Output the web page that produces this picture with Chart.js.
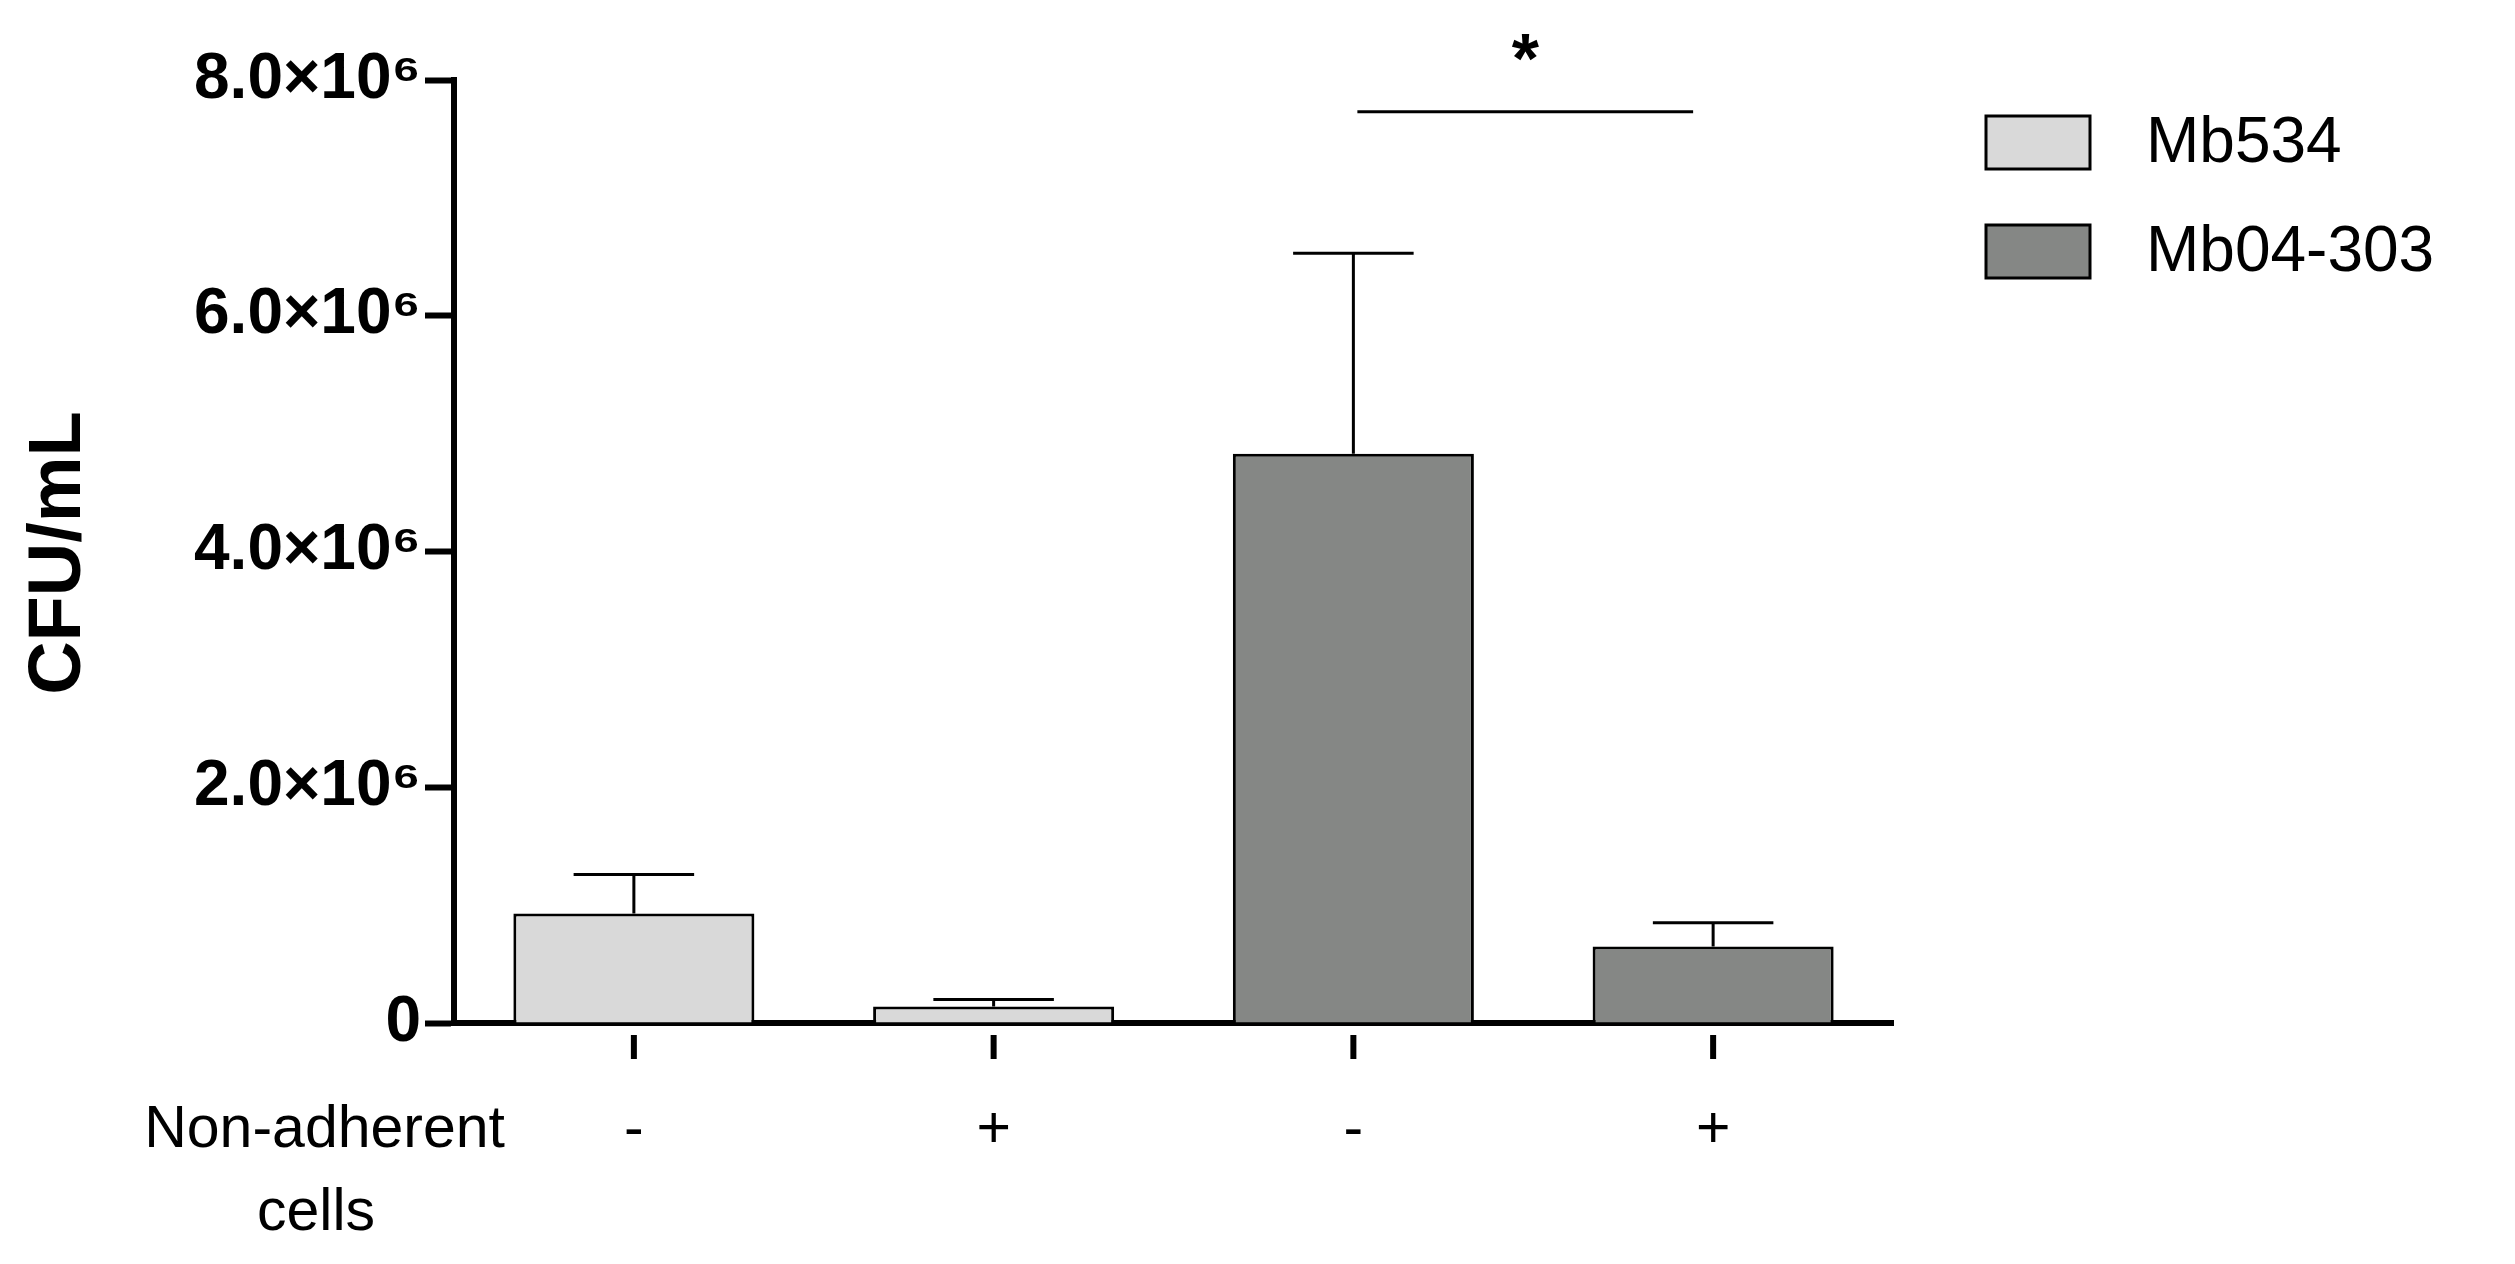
<!DOCTYPE html>
<html>
<head>
<meta charset="utf-8">
<script src="https://cdn.jsdelivr.net/npm/chart.js@4"></script>
<style>
  html, body { margin: 0; padding: 0; background: #fff; }
  #wrap { width: 2515px; height: 1264px; }
</style>
</head>
<body>
<div id="wrap"><canvas id="chart" width="2515" height="1264"></canvas></div>
<script>
// data
const categories = ["-", "+", "-", "+"]
const strains = ["Mb534", "Mb534", "Mb04-303", "Mb04-303"]
const means = [0.93e6, 0.14e6, 4.83e6, 0.65e6]
const errors = [0.33e6, 0.06e6, 1.70e6, 0.20e6]
const yTicks = [0, 2e6, 4e6, 6e6, 8e6]
const legendNames = ["Mb534", "Mb04-303"]
const colors = { "Mb534": "#d9d9d9", "Mb04-303": "#858785" }

const FONT = "'Liberation Sans', Arial, sans-serif"

const extras = {
  id: "extras",
  afterDatasetsDraw(chart) {
    const { ctx, scales: { x, y } } = chart
    const meta = chart.getDatasetMeta(0)
    ctx.save()
    ctx.strokeStyle = "#000"
    ctx.lineWidth = 3
    // error bars (upper only)
    meta.data.forEach((bar, i) => {
      const top = y.getPixelForValue(means[i] + errors[i])
      const half = bar.width / 4
      ctx.beginPath()
      ctx.moveTo(bar.x, bar.y)
      ctx.lineTo(bar.x, top)
      ctx.moveTo(bar.x - half, top)
      ctx.lineTo(bar.x + half, top)
      ctx.stroke()
    })
    // x tick marks
    ctx.lineWidth = 6
    categories.forEach((c, i) => {
      const px = x.getPixelForValue(i)
      ctx.beginPath()
      ctx.moveTo(px, y.bottom + 12)
      ctx.lineTo(px, y.bottom + 36)
      ctx.stroke()
    })
    // category labels
    ctx.fillStyle = "#000"
    ctx.font = "59px " + FONT
    ctx.textAlign = "center"
    ctx.textBaseline = "middle"
    categories.forEach((c, i) => ctx.fillText(c, x.getPixelForValue(i), 1131))
    ctx.textAlign = "right"
    ctx.fillText("Non-adherent", 505, 1131)
    ctx.textAlign = "center"
    ctx.fillText("cells", 316, 1214)
    // significance bar
    ctx.lineWidth = 3
    const sy = y.getPixelForValue(7.73e6)
    const x1 = meta.data[2].x + 4, x2 = meta.data[3].x - 20
    ctx.beginPath()
    ctx.moveTo(x1, sy)
    ctx.lineTo(x2, sy)
    ctx.stroke()
    ctx.font = "bold 70px " + FONT
    ctx.fillText("*", (x1 + x2) / 2, sy - 48)
    // legend
    ctx.font = "64px " + FONT
    ctx.textAlign = "left"
    legendNames.forEach((n, i) => {
      const ty = 116 + i * 109
      ctx.fillStyle = colors[n]
      ctx.fillRect(1986, ty, 104, 53)
      ctx.strokeRect(1986, ty, 104, 53)
      ctx.fillStyle = "#000"
      ctx.fillText(n, 2146, ty + 28)
    })
    // y title
    ctx.font = "bold 74px " + FONT
    ctx.translate(60, 553)
    ctx.rotate(-Math.PI / 2)
    ctx.textAlign = "center"
    ctx.fillText("CFU/mL", 0, 0)
    ctx.restore()
  }
}

new Chart(document.getElementById("chart"), {
  type: "bar",
  data: {
    labels: categories,
    datasets: [{
      data: means,
      backgroundColor: strains.map(s => colors[s]),
      borderColor: "#000",
      borderWidth: 3,
      borderSkipped: "bottom",
      barPercentage: 0.67,
      categoryPercentage: 1
    }]
  },
  options: {
    responsive: false,
    animation: false,
    layout: { padding: { top: 80, right: 622, left: 0, bottom: 0 } },
    plugins: { legend: { display: false }, tooltip: { enabled: false } },
    scales: {
      x: {
        grid: { display: false },
        border: { color: "#000", width: 6 },
        ticks: { display: false },
        afterFit(s) { s.height = 241 }
      },
      y: {
        min: 0,
        max: 8e6,
        afterBuildTicks(s) { s.ticks = yTicks.map(v => ({ value: v })) },
        afterFit(s) { s.width = 454 },
        grid: { drawOnChartArea: false, tickLength: 29, tickWidth: 6, color: "#000" },
        border: { color: "#000", width: 6 },
        ticks: {
          color: "#000",
          padding: 4,
          font: { family: FONT, size: 64, weight: "bold" },
          callback: v => v === 0 ? "0" : (v / 1e6).toFixed(1) + "×10⁶"
        }
      }
    }
  },
  plugins: [extras]
})
</script>
</body>
</html>
